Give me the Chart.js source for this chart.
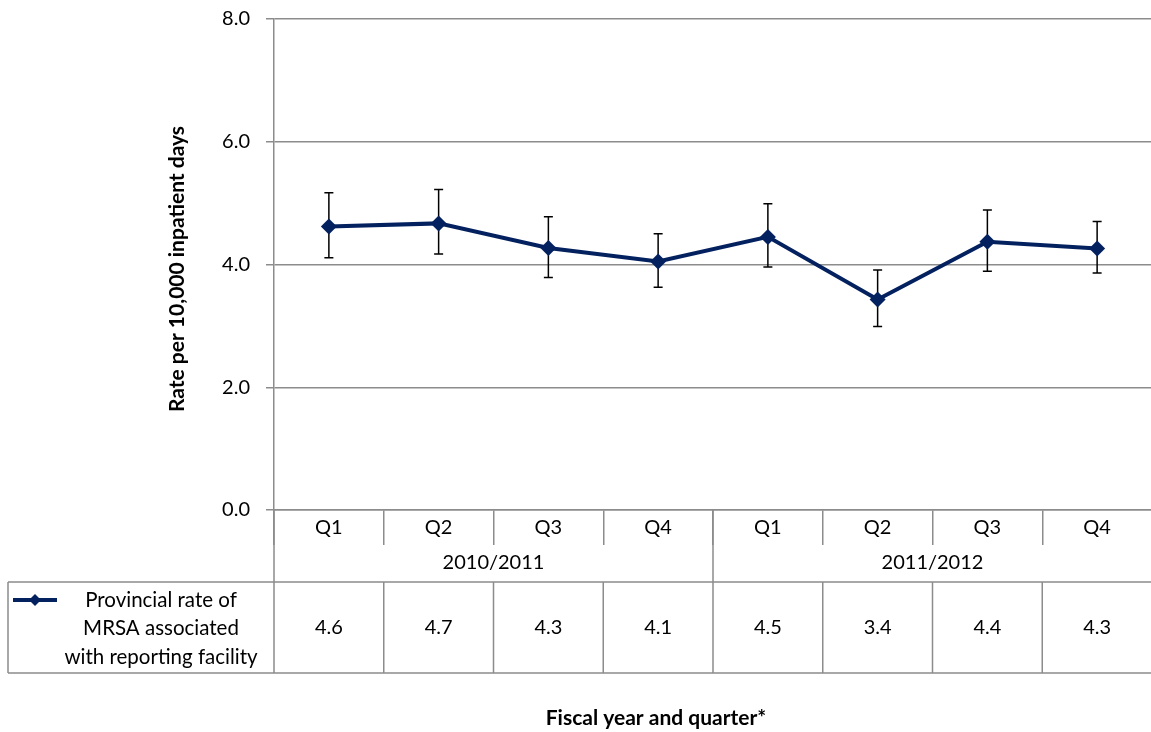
<!DOCTYPE html>
<html lang="en">
<head>
  <meta charset="UTF-8" />
  <title>Provincial rate of MRSA</title>
  <script src="https://cdn.jsdelivr.net/npm/chart.js"></script>
  <style>
    html, body {
      margin: 0;
      padding: 0;
      background: #fff;
      overflow: hidden;
    }
  </style>
</head>
<body>
  <canvas id="mrsaChart" width="1160" height="732"></canvas>

  <script>
    // data
    const quarters = ['Q1', 'Q2', 'Q3', 'Q4', 'Q1', 'Q2', 'Q3', 'Q4'];
    const fiscalYears = ['2010/2011', '2011/2012'];
    const rates = [4.62, 4.67, 4.27, 4.05, 4.45, 3.43, 4.37, 4.26];
    const lowerCI = [4.11, 4.17, 3.79, 3.63, 3.96, 2.99, 3.89, 3.86];
    const upperCI = [5.17, 5.22, 4.78, 4.50, 4.99, 3.91, 4.89, 4.70];
    const tableValues = ['4.6', '4.7', '4.3', '4.1', '4.5', '3.4', '4.4', '4.3'];
    const seriesLabel = ['Provincial rate of', 'MRSA associated', 'with reporting facility'];
    const yTitle = 'Rate per 10,000 inpatient days';
    const xTitle = 'Fiscal year and quarter*';

    const navy = '#04215f';
    const gridColor = '#8c8c8c';
    const fontName = 'Lato';

    const tablePlugin = {
      id: 'tablePlugin',
      beforeDatasetsDraw(chart) {
        // error bars sit under the line and markers
        const ctx = chart.ctx;
        const xs = chart.scales.x;
        const ys = chart.scales.y;
        ctx.save();
        ctx.strokeStyle = '#000';
        ctx.lineWidth = 1.5;
        rates.forEach((v, i) => {
          const px = xs.getPixelForValue(i);
          const top = ys.getPixelForValue(upperCI[i]);
          const bot = ys.getPixelForValue(lowerCI[i]);
          ctx.beginPath();
          ctx.moveTo(px, top); ctx.lineTo(px, bot);
          ctx.moveTo(px - 4.5, top); ctx.lineTo(px + 4.5, top);
          ctx.moveTo(px - 4.5, bot); ctx.lineTo(px + 4.5, bot);
          ctx.stroke();
        });
        ctx.restore();
      },
      afterDraw(chart) {
        const ctx = chart.ctx;
        const xs = chart.scales.x;
        const area = chart.chartArea;
        const half = (xs.getPixelForValue(1) - xs.getPixelForValue(0)) / 2;
        const qMid = area.bottom + 18;
        const yearMid = area.bottom + 53;
        const rowTop = area.bottom + 72;
        const rowBot = area.bottom + 163;
        const tableLeft = 8;

        ctx.save();
        ctx.strokeStyle = gridColor;
        ctx.lineWidth = 1.5;
        ctx.beginPath();
        // y axis carried down through the table
        ctx.moveTo(area.left, area.bottom); ctx.lineTo(area.left, rowBot);
        // year separator
        const yearSplit = (xs.getPixelForValue(3) + xs.getPixelForValue(4)) / 2;
        ctx.moveTo(yearSplit, area.bottom); ctx.lineTo(yearSplit, rowBot);
        // data row
        ctx.moveTo(tableLeft, rowTop); ctx.lineTo(area.right, rowTop);
        ctx.moveTo(tableLeft, rowBot); ctx.lineTo(area.right, rowBot);
        ctx.moveTo(tableLeft, rowTop); ctx.lineTo(tableLeft, rowBot);
        quarters.forEach((q, i) => {
          const bx = xs.getPixelForValue(i) + half;
          ctx.moveTo(bx, rowTop); ctx.lineTo(bx, rowBot);
        });
        ctx.stroke();

        ctx.fillStyle = '#000';
        ctx.textAlign = 'center';
        ctx.textBaseline = 'middle';
        ctx.font = '20px ' + fontName;
        quarters.forEach((q, i) => {
          const px = xs.getPixelForValue(i);
          ctx.fillText(q, px, qMid);
          ctx.fillText(tableValues[i], px, (rowTop + rowBot) / 2);
        });
        fiscalYears.forEach((yr, g) => {
          const a = xs.getPixelForValue(g * 4);
          const b = xs.getPixelForValue(g * 4 + 3);
          ctx.fillText(yr, (a + b) / 2, yearMid);
        });

        // legend cell
        const legY = rowTop + 18;
        ctx.strokeStyle = navy;
        ctx.lineWidth = 4;
        ctx.beginPath();
        ctx.moveTo(13, legY); ctx.lineTo(57, legY);
        ctx.stroke();
        ctx.fillStyle = navy;
        ctx.beginPath();
        ctx.moveTo(35, legY - 6); ctx.lineTo(41, legY);
        ctx.lineTo(35, legY + 6); ctx.lineTo(29, legY);
        ctx.closePath();
        ctx.fill();
        ctx.fillStyle = '#000';
        ctx.font = '20.5px ' + fontName;
        seriesLabel.forEach((line, k) => {
          ctx.fillText(line, 161, legY + k * 28.5);
        });

        // axis titles
        ctx.font = 'bold 21px ' + fontName;
        ctx.fillText(xTitle, 656, 718);
        ctx.translate(177, 269);
        ctx.rotate(-Math.PI / 2);
        ctx.fillText(yTitle, 0, 0);
        ctx.restore();
      }
    };

    const ctx = document.getElementById('mrsaChart').getContext('2d');
    new Chart(ctx, {
      type: 'line',
      data: {
        labels: quarters.map((q, i) => fiscalYears[Math.floor(i / 4)] + ' ' + q),
        datasets: [{
          label: seriesLabel.join(' '),
          data: rates,
          borderColor: navy,
          backgroundColor: navy,
          borderWidth: 4,
          pointStyle: 'rectRot',
          pointRadius: 8,
          pointBorderWidth: 0,
          pointBackgroundColor: navy,
          tension: 0,
          fill: false
        }]
      },
      options: {
        responsive: false,
        devicePixelRatio: 1,
        animation: false,
        layout: { padding: { top: 19, left: 0, right: 1, bottom: 0 } },
        plugins: {
          legend: { display: false },
          tooltip: { enabled: false }
        },
        scales: {
          x: {
            type: 'category',
            offset: true,
            afterFit(scale) {
              scale.height = 222;
              scale.paddingLeft = 0;
              scale.paddingRight = 0;
            },
            grid: {
              offset: true,
              drawOnChartArea: false,
              drawTicks: true,
              tickLength: 35,
              color: gridColor,
              lineWidth: 1.5
            },
            border: { display: true, color: gridColor, width: 1.5 },
            ticks: { display: false }
          },
          y: {
            min: 0,
            max: 8,
            afterFit(scale) {
              scale.width = 274;
              scale.paddingTop = 0;
              scale.paddingBottom = 0;
            },
            ticks: {
              stepSize: 2,
              padding: 16,
              color: '#000',
              font: { family: fontName, size: 20 },
              callback: v => v.toFixed(1)
            },
            grid: {
              color: gridColor,
              lineWidth: 1.5,
              tickLength: 8
            },
            border: { display: true, color: gridColor, width: 1.5 }
          }
        }
      },
      plugins: [tablePlugin]
    });
  </script>
</body>
</html>
